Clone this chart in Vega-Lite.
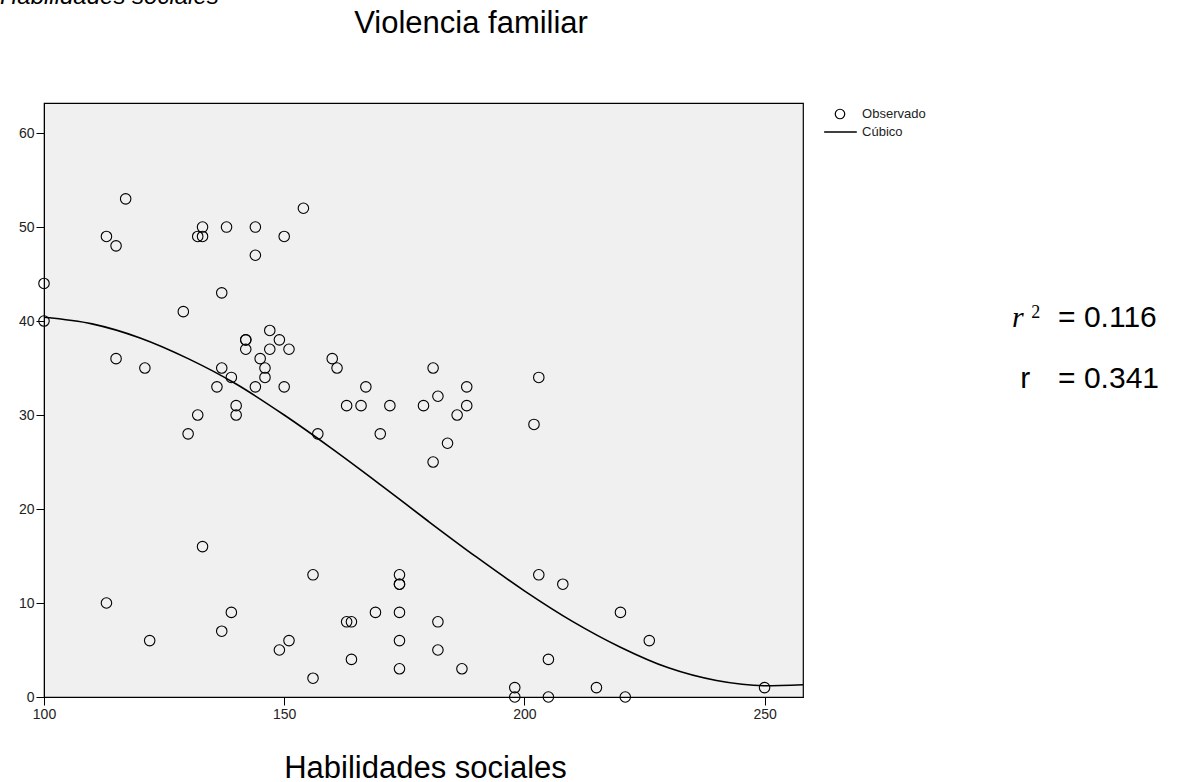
{
  "$schema": "https://vega.github.io/schema/vega-lite/v6.json",
  "width": 759,
  "height": 594,
  "autosize": {"type": "none"},
  "padding": {"left": 44, "top": 103, "right": 374, "bottom": 85},
  "background": "white",
  "config": {
    "view": {"fill": "#f0f0f0", "stroke": "#000000", "strokeWidth": 1.2},
    "font": "Liberation Sans",
    "axis": {
      "grid": false,
      "labelFont": "Liberation Sans",
      "labelFontSize": 14,
      "labelColor": "#222222",
      "tickColor": "#000000",
      "domainColor": "#000000",
      "tickSize": 8,
      "labelPadding": 2,
      "labelFlush": false
    }
  },
  "datasets": {
    "obs": [
      {"habilidades": 100, "violencia": 44}, {"habilidades": 100, "violencia": 40},
      {"habilidades": 113, "violencia": 49}, {"habilidades": 117, "violencia": 53},
      {"habilidades": 115, "violencia": 48}, {"habilidades": 132, "violencia": 49},
      {"habilidades": 133, "violencia": 49}, {"habilidades": 133, "violencia": 50},
      {"habilidades": 138, "violencia": 50}, {"habilidades": 144, "violencia": 50},
      {"habilidades": 144, "violencia": 47}, {"habilidades": 154, "violencia": 52},
      {"habilidades": 150, "violencia": 49}, {"habilidades": 137, "violencia": 43},
      {"habilidades": 129, "violencia": 41}, {"habilidades": 142, "violencia": 38},
      {"habilidades": 142, "violencia": 38}, {"habilidades": 142, "violencia": 37},
      {"habilidades": 147, "violencia": 39}, {"habilidades": 149, "violencia": 38},
      {"habilidades": 151, "violencia": 37}, {"habilidades": 147, "violencia": 37},
      {"habilidades": 145, "violencia": 36}, {"habilidades": 146, "violencia": 35},
      {"habilidades": 146, "violencia": 34}, {"habilidades": 160, "violencia": 36},
      {"habilidades": 161, "violencia": 35}, {"habilidades": 115, "violencia": 36},
      {"habilidades": 121, "violencia": 35}, {"habilidades": 137, "violencia": 35},
      {"habilidades": 139, "violencia": 34}, {"habilidades": 136, "violencia": 33},
      {"habilidades": 144, "violencia": 33}, {"habilidades": 150, "violencia": 33},
      {"habilidades": 140, "violencia": 31}, {"habilidades": 140, "violencia": 30},
      {"habilidades": 132, "violencia": 30}, {"habilidades": 130, "violencia": 28},
      {"habilidades": 157, "violencia": 28}, {"habilidades": 163, "violencia": 31},
      {"habilidades": 166, "violencia": 31}, {"habilidades": 172, "violencia": 31},
      {"habilidades": 167, "violencia": 33}, {"habilidades": 170, "violencia": 28},
      {"habilidades": 179, "violencia": 31}, {"habilidades": 181, "violencia": 35},
      {"habilidades": 182, "violencia": 32}, {"habilidades": 188, "violencia": 33},
      {"habilidades": 186, "violencia": 30}, {"habilidades": 188, "violencia": 31},
      {"habilidades": 184, "violencia": 27}, {"habilidades": 181, "violencia": 25},
      {"habilidades": 203, "violencia": 34}, {"habilidades": 202, "violencia": 29},
      {"habilidades": 133, "violencia": 16}, {"habilidades": 113, "violencia": 10},
      {"habilidades": 122, "violencia": 6}, {"habilidades": 139, "violencia": 9},
      {"habilidades": 137, "violencia": 7}, {"habilidades": 149, "violencia": 5},
      {"habilidades": 151, "violencia": 6}, {"habilidades": 156, "violencia": 2},
      {"habilidades": 156, "violencia": 13}, {"habilidades": 163, "violencia": 8},
      {"habilidades": 164, "violencia": 8}, {"habilidades": 164, "violencia": 4},
      {"habilidades": 169, "violencia": 9}, {"habilidades": 174, "violencia": 13},
      {"habilidades": 174, "violencia": 12}, {"habilidades": 174, "violencia": 12},
      {"habilidades": 174, "violencia": 9}, {"habilidades": 174, "violencia": 6},
      {"habilidades": 174, "violencia": 3}, {"habilidades": 182, "violencia": 8},
      {"habilidades": 182, "violencia": 5}, {"habilidades": 187, "violencia": 3},
      {"habilidades": 198, "violencia": 1}, {"habilidades": 198, "violencia": 0},
      {"habilidades": 205, "violencia": 4}, {"habilidades": 205, "violencia": 0},
      {"habilidades": 203, "violencia": 13}, {"habilidades": 208, "violencia": 12},
      {"habilidades": 215, "violencia": 1}, {"habilidades": 220, "violencia": 9},
      {"habilidades": 221, "violencia": 0}, {"habilidades": 226, "violencia": 6},
      {"habilidades": 250, "violencia": 1}
    ],
    "cubic": [
      {"habilidades": 100, "violencia": 40.4}, {"habilidades": 110, "violencia": 39.7},
      {"habilidades": 120, "violencia": 38.2}, {"habilidades": 130, "violencia": 36.0},
      {"habilidades": 140, "violencia": 33.3}, {"habilidades": 150, "violencia": 30.0},
      {"habilidades": 160, "violencia": 26.4}, {"habilidades": 170, "violencia": 22.6},
      {"habilidades": 180, "violencia": 18.7}, {"habilidades": 190, "violencia": 14.9},
      {"habilidades": 200, "violencia": 11.3}, {"habilidades": 210, "violencia": 8.05},
      {"habilidades": 220, "violencia": 5.3}, {"habilidades": 230, "violencia": 3.1},
      {"habilidades": 240, "violencia": 1.75}, {"habilidades": 250, "violencia": 1.2},
      {"habilidades": 258, "violencia": 1.3}
    ]
  },
  "layer": [
    {
      "data": {"name": "obs"},
      "mark": {"type": "point", "shape": "circle", "filled": false, "size": 110, "strokeWidth": 1.1, "opacity": 1, "color": "#000000"},
      "encoding": {
        "x": {
          "field": "habilidades", "type": "quantitative",
          "scale": {"domain": [100, 258], "nice": false, "zero": false},
          "axis": {
            "values": [100, 150, 200, 250],
            "title": "Habilidades sociales",
            "titleFont": "Liberation Sans",
            "titleFontSize": 31,
            "titleFontWeight": "normal",
            "titleColor": "#000000",
            "titleX": 381,
            "titleY": 80,
            "titleBaseline": "alphabetic",
            "titleAlign": "center"
          }
        },
        "y": {
          "field": "violencia", "type": "quantitative",
          "scale": {"domain": [0, 63.2], "nice": false, "zero": false},
          "axis": {"values": [0, 10, 20, 30, 40, 50, 60], "title": null}
        }
      }
    },
    {
      "data": {"name": "cubic"},
      "mark": {"type": "line", "interpolate": "monotone", "strokeWidth": 1.6, "color": "#000000"},
      "encoding": {
        "x": {"field": "habilidades", "type": "quantitative"},
        "y": {"field": "violencia", "type": "quantitative"}
      }
    },
    {
      "data": {"values": [{}]},
      "mark": {"type": "point", "shape": "circle", "filled": false, "size": 90, "strokeWidth": 1.2, "opacity": 1, "color": "#000000"},
      "encoding": {
        "x": {"datum": 265.7, "type": "quantitative"},
        "y": {"datum": 62.03, "type": "quantitative"}
      }
    },
    {
      "data": {"values": [{}]},
      "mark": {"type": "rule", "strokeWidth": 1.4, "color": "#000000"},
      "encoding": {
        "x": {"datum": 262.4, "type": "quantitative"},
        "x2": {"datum": 269.2},
        "y": {"datum": 60.11, "type": "quantitative"}
      }
    },
    {
      "data": {"values": [{}]},
      "mark": {"type": "text", "align": "left", "baseline": "middle", "font": "Liberation Sans", "fontSize": 13, "color": "#222222"},
      "encoding": {
        "x": {"datum": 270.3, "type": "quantitative"},
        "y": {"datum": 62.03, "type": "quantitative"},
        "text": {"value": "Observado"}
      }
    },
    {
      "data": {"values": [{}]},
      "mark": {"type": "text", "align": "left", "baseline": "middle", "font": "Liberation Sans", "fontSize": 13, "color": "#222222"},
      "encoding": {
        "x": {"datum": 270.3, "type": "quantitative"},
        "y": {"datum": 60.11, "type": "quantitative"},
        "text": {"value": "Cúbico"}
      }
    },
    {
      "data": {"values": [{}]},
      "mark": {"type": "text", "align": "center", "baseline": "alphabetic", "font": "Liberation Sans", "fontSize": 31, "color": "#000000"},
      "encoding": {
        "x": {"datum": 188.9, "type": "quantitative"},
        "y": {"datum": 70.7, "type": "quantitative"},
        "text": {"value": "Violencia familiar"}
      }
    },
    {
      "data": {"values": [{}]},
      "mark": {"type": "text", "align": "left", "baseline": "alphabetic", "font": "Liberation Sans", "fontSize": 24, "fontStyle": "italic", "color": "#000000"},
      "encoding": {
        "x": {"datum": 90.84, "type": "quantitative"},
        "y": {"datum": 73.7, "type": "quantitative"},
        "text": {"value": "Habilidades sociales"}
      }
    },
    {
      "data": {"values": [{}]},
      "mark": {"type": "text", "align": "left", "baseline": "alphabetic", "font": "Liberation Serif", "fontSize": 30, "fontStyle": "italic", "color": "#000000"},
      "encoding": {
        "x": {"datum": 301.5, "type": "quantitative"},
        "y": {"datum": 39.37, "type": "quantitative"},
        "text": {"value": "r"}
      }
    },
    {
      "data": {"values": [{}]},
      "mark": {"type": "text", "align": "left", "baseline": "alphabetic", "font": "Liberation Serif", "fontSize": 18, "color": "#000000"},
      "encoding": {
        "x": {"datum": 305.5, "type": "quantitative"},
        "y": {"datum": 40.32, "type": "quantitative"},
        "text": {"value": "2"}
      }
    },
    {
      "data": {"values": [{}]},
      "mark": {"type": "text", "align": "left", "baseline": "alphabetic", "font": "Liberation Sans", "fontSize": 30, "color": "#000000"},
      "encoding": {
        "x": {"datum": 311.1, "type": "quantitative"},
        "y": {"datum": 39.37, "type": "quantitative"},
        "text": {"value": "= 0.116"}
      }
    },
    {
      "data": {"values": [{}]},
      "mark": {"type": "text", "align": "left", "baseline": "alphabetic", "font": "Liberation Sans", "fontSize": 30, "color": "#000000"},
      "encoding": {
        "x": {"datum": 303.2, "type": "quantitative"},
        "y": {"datum": 32.88, "type": "quantitative"},
        "text": {"value": "r"}
      }
    },
    {
      "data": {"values": [{}]},
      "mark": {"type": "text", "align": "left", "baseline": "alphabetic", "font": "Liberation Sans", "fontSize": 30, "color": "#000000"},
      "encoding": {
        "x": {"datum": 311.1, "type": "quantitative"},
        "y": {"datum": 32.88, "type": "quantitative"},
        "text": {"value": "= 0.341"}
      }
    }
  ]
}
